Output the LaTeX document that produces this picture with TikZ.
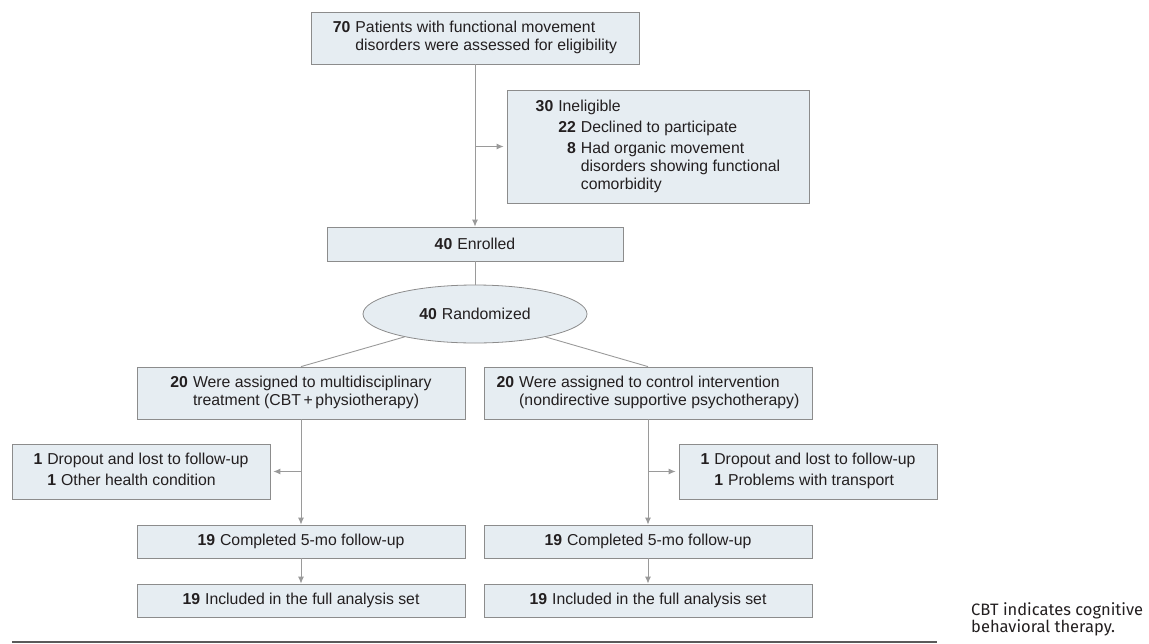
\documentclass[tikz,border=0pt]{standalone}
\usepackage{fontspec}
\setmainfont{Liberation Sans}
\newfontfamily\notefont{Fira Sans}
\usepackage{array}
\usetikzlibrary{shapes.geometric, arrows.meta}
\definecolor{boxfill}{HTML}{E6EDF2}
\definecolor{boxline}{HTML}{8C8C8C}
\definecolor{flowline}{HTML}{9A9A9A}
\definecolor{ink}{HTML}{231F20}
\definecolor{rulegray}{HTML}{5A5A5A}
\tikzset{
every picture/.style={x=1pt, y=-1pt},
box/.style={draw=boxline, fill=boxfill, line width=0.8pt, inner sep=0pt, text=ink,
  font=\fontsize{15.8}{18}\selectfont},
flow/.style={draw=flowline, line width=0.9pt},
arr/.style={flow, -{Latex[length=7pt, width=6pt]}}
}

\begin{document}
\begin{tikzpicture}
      \useasboundingbox (0,0) rectangle (1149,643);
      % screening
      \node[box, minimum width=328pt, minimum height=52pt] (screen) at (475,38)
        {\begin{tabular}{@{}r@{\hspace{5pt}}l@{}}
          \textbf{70} & Patients with functional movement\\
          & disorders were assessed for eligibility
        \end{tabular}};
      \node[box, minimum width=302pt, minimum height=113pt] (inelig) at (658,146.5)
        {\begin{tabular}{@{}r@{\hspace{5pt}}r@{\hspace{5pt}}l@{}}
          \textbf{30} & \multicolumn{2}{@{}l@{}}{Ineligible}\\[3pt]
          & \textbf{22} & Declined to participate\\[3pt]
          & \textbf{8} & Had organic movement\\
          & & disorders showing functional\\
          & & comorbidity
        \end{tabular}};
      \node[box, minimum width=296pt, minimum height=34pt] (enrol) at (475,244)
        {\textbf{40}\hspace{5pt}Enrolled};
      \node[box, ellipse, minimum width=224pt, minimum height=58pt] (rand) at (475,314)
        {\textbf{40}\hspace{5pt}Randomized};
      % allocation
      \node[box, minimum width=328pt, minimum height=52pt] (multi) at (301,393)
        {\begin{tabular}{@{}r@{\hspace{5pt}}l@{}}
          \textbf{20} & Were assigned to multidisciplinary\\
          & treatment (CBT\,+\,physiotherapy)
        \end{tabular}};
      \node[box, minimum width=328pt, minimum height=52pt] (ctrl) at (648,393)
        {\begin{tabular}{@{}r@{\hspace{5pt}}l@{}}
          \textbf{20} & Were assigned to control intervention\\
          & (nondirective supportive psychotherapy)
        \end{tabular}};
      \node[box, minimum width=258pt, minimum height=55pt] (dropA) at (141,471.5)
        {\begin{tabular}{@{}r@{\hspace{5pt}}r@{\hspace{5pt}}l@{}}
          \textbf{1} & \multicolumn{2}{@{}l@{}}{Dropout and lost to follow-up}\\[3pt]
          & \textbf{1} & Other health condition
        \end{tabular}};
      \node[box, minimum width=258pt, minimum height=55pt] (dropB) at (808,471.5)
        {\begin{tabular}{@{}r@{\hspace{5pt}}r@{\hspace{5pt}}l@{}}
          \textbf{1} & \multicolumn{2}{@{}l@{}}{Dropout and lost to follow-up}\\[3pt]
          & \textbf{1} & Problems with transport
        \end{tabular}};
      % follow-up and analysis
      \node[box, minimum width=328pt, minimum height=33pt] (doneA) at (301,541.5)
        {\textbf{19}\hspace{5pt}Completed 5-mo follow-up};
      \node[box, minimum width=328pt, minimum height=33pt] (doneB) at (648,541.5)
        {\textbf{19}\hspace{5pt}Completed 5-mo follow-up};
      \node[box, minimum width=328pt, minimum height=33pt] (fasA) at (301,600.5)
        {\textbf{19}\hspace{5pt}Included in the full analysis set};
      \node[box, minimum width=328pt, minimum height=33pt] (fasB) at (648,600.5)
        {\textbf{19}\hspace{5pt}Included in the full analysis set};
      \node[anchor=north west, inner sep=0pt, align=left, text=ink,
        font=\notefont\fontsize{16.5}{16}\selectfont] (note) at (971,602)
        {CBT indicates cognitive\\behavioral therapy.};

      \draw[arr] (screen) -- (enrol);
      \draw[arr, shorten >=3pt] (screen.south |- inelig.west) -- (inelig.west);
      \draw[flow] (enrol) -- (rand);
      \draw[flow] (rand.198) -- (multi.north);
      \draw[flow] (rand.-18) -- (ctrl.north);
      \draw[arr] (multi) -- (doneA);
      \draw[arr, shorten >=3pt] (multi.south |- dropA.east) -- (dropA.east);
      \draw[arr] (doneA) -- (fasA);
      \draw[arr] (ctrl) -- (doneB);
      \draw[arr, shorten >=3pt] (ctrl.south |- dropB.west) -- (dropB.west);
      \draw[arr] (doneB) -- (fasB);
      \draw[rulegray, line width=2pt] (12,642) -- (937,642);
    \end{tikzpicture}
\end{document}
